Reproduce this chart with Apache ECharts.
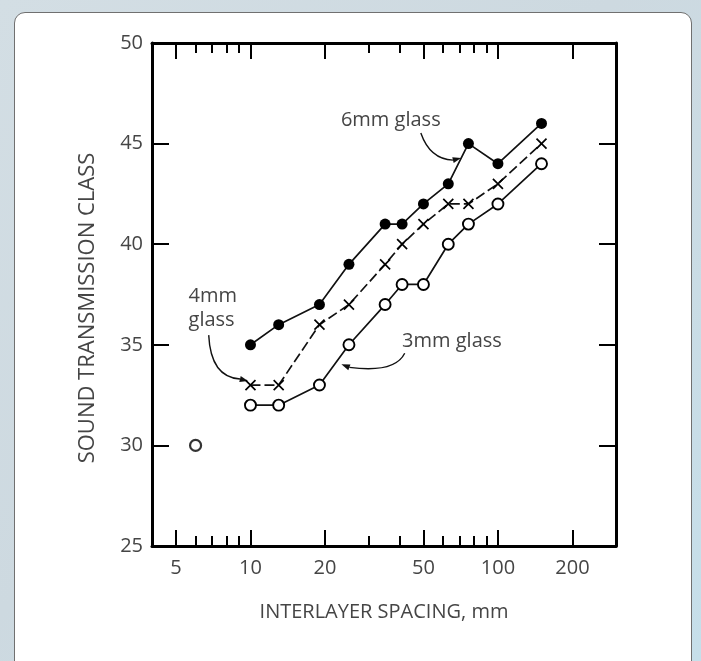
<!DOCTYPE html>
<html>
<head>
<meta charset="utf-8">
<script src="https://cdn.jsdelivr.net/npm/echarts@6/dist/echarts.min.js"></script>
<style>
  html, body { margin: 0; padding: 0; width: 701px; height: 661px; overflow: hidden;
    background: linear-gradient(135deg, #d3dee4 0%, #cdd9e0 45%, #c6dfea 100%); }
  #card { position: absolute; left: 14px; top: 12px; width: 676px; height: 670px;
    background: #fff; border: 1.5px solid #707070; border-radius: 11px; }
  #chart { position: absolute; left: 0; top: 0; width: 701px; height: 661px; }
</style>
</head>
<body>
<div id="card"></div>
<div id="chart"></div>
<script>
// ---------- data ----------
const spacing = [10, 13, 19, 25, 35, 41, 50, 63, 76, 100, 150];
const stc6mm = [35, 36, 37, 39, 41, 41, 42, 43, 45, 44, 46];
const stc4mm = [33, 33, 36, 37, 39, 40, 41, 42, 42, 43, 45];
const stc3mm = [32, 32, 33, 35, 37, 38, 38, 40, 41, 42, 44];
const spacing3mmSingle = [6];
const stc3mmSingle = [30];

const xMajorTicks = [5, 10, 20, 50, 100, 200];
const xMinorTicks = [6, 7, 8, 9, 30, 40, 60, 70, 80, 90];
const xMin = 4, xMax = 300;
const yMin = 25, yMax = 50, yStep = 5;

// ---------- styling ----------
const FONT = '"Open Sans", "Noto Sans", sans-serif';
const TXT = '#454545';
const zip = (xs, ys) => xs.map((x, i) => [x, ys[i]]);
const lg = v => Math.log10(v);

const chart = echarts.init(document.getElementById('chart'), null, { renderer: 'canvas' });

function tickAxis(position, values, len, labels, showLine) {
  return {
    type: 'value', position: position, min: lg(xMin), max: lg(xMax),
    axisLine: { show: !!showLine, onZero: false, lineStyle: { color: '#000', width: 3 } },
    axisTick: { show: true, inside: true, length: len, customValues: values.map(lg),
      lineStyle: { color: '#000', width: 2 } },
    axisLabel: labels ? { show: true, customValues: values.map(lg), margin: 12,
      formatter: v => String(Math.round(Math.pow(10, v))),
      color: TXT, fontSize: 20, fontFamily: FONT } : { show: false },
    splitLine: { show: false }
  };
}

const X_MARK = 'path://M0 0L10 10M10 0L0 10';

chart.setOption({
  animation: false,
  backgroundColor: 'transparent',
  grid: { left: 152, right: 85, top: 43, bottom: 115, containLabel: false },
  xAxis: [
    { type: 'log', logBase: 10, min: xMin, max: xMax, position: 'bottom',
      axisLine: { show: true, onZero: false, lineStyle: { color: '#000', width: 3 } },
      axisTick: { show: false }, axisLabel: { show: false }, splitLine: { show: false },
      name: 'INTERLAYER SPACING, mm', nameLocation: 'middle', nameGap: 56,
      nameTextStyle: { color: TXT, fontSize: 20, fontFamily: FONT } },
    tickAxis('bottom', xMajorTicks, 16, true, false),
    tickAxis('bottom', xMinorTicks, 10, false, false),
    tickAxis('top', xMajorTicks, 16, false, true),
    tickAxis('top', xMinorTicks, 10, false, false)
  ],
  yAxis: [
    { type: 'value', min: yMin, max: yMax, interval: yStep, position: 'left',
      axisLine: { show: true, onZero: false, lineStyle: { color: '#000', width: 3 } },
      axisTick: { show: true, inside: true, length: 17, lineStyle: { color: '#000', width: 2 } },
      axisLabel: { color: TXT, fontSize: 20, fontFamily: FONT, margin: 9 },
      splitLine: { show: false } },
    { type: 'value', min: yMin, max: yMax, interval: yStep, position: 'right',
      axisLine: { show: true, onZero: false, lineStyle: { color: '#000', width: 3 } },
      axisTick: { show: true, inside: true, length: 17, lineStyle: { color: '#000', width: 2 } },
      axisLabel: { show: false }, splitLine: { show: false } }
  ],
  series: [
    { name: '6mm glass', type: 'line', xAxisIndex: 0, yAxisIndex: 0,
      data: zip(spacing, stc6mm), symbol: 'circle', symbolSize: 11,
      itemStyle: { color: '#000' }, lineStyle: { color: '#111', width: 1.7 } },
    { name: '4mm glass', type: 'line', xAxisIndex: 0, yAxisIndex: 0,
      data: zip(spacing, stc4mm), symbol: X_MARK, symbolSize: 10,
      itemStyle: { color: '#000', borderColor: '#000', borderWidth: 1.7 },
      lineStyle: { color: '#111', width: 1.7, type: [10, 4] } },
    { name: '3mm glass', type: 'line', xAxisIndex: 0, yAxisIndex: 0,
      data: zip(spacing, stc3mm), symbol: 'circle', symbolSize: 11,
      itemStyle: { color: '#fff', borderColor: '#000', borderWidth: 1.9 },
      lineStyle: { color: '#111', width: 1.7 } },
    { name: '3mm glass (6 mm spacing)', type: 'scatter', xAxisIndex: 0, yAxisIndex: 0,
      data: zip(spacing3mmSingle, stc3mmSingle), symbol: 'circle', symbolSize: 11,
      itemStyle: { color: '#fff', borderColor: '#000', borderWidth: 2.2 } }
  ]
});

// ---------- annotations (anchored in data coordinates) ----------
const notes = [
  { text: '6mm glass', at: [36.9, 46.17], align: 'center' },
  { text: '4mm\nglass', at: [5.62, 36.8], align: 'left' },
  { text: '3mm glass', at: [65.2, 35.18], align: 'center' }
];
const arrows = [
  { from: [48.8, 45.53], ctrl: [53.1, 44.23], to: [65.8, 44.18], tip: [70.96, 44.28] },
  { from: [6.78, 35.48], ctrl: [6.91, 33.39], to: [9.07, 33.30], tip: [9.77, 33.20] },
  { from: [42.0, 34.58], ctrl: [38.3, 33.58], to: [25.1, 33.88], tip: [23.3, 34.03] }
];
const P = d => chart.convertToPixel({ xAxisIndex: 0, yAxisIndex: 0 }, d);
const g = [];
notes.forEach(n => {
  const p = P(n.at);
  g.push({ type: 'text', x: p[0], y: p[1], silent: true,
    style: { text: n.text, align: n.align, verticalAlign: 'middle', fill: TXT,
      fontSize: 20, fontFamily: FONT, lineHeight: 24 } });
});
arrows.forEach(a => {
  const s = P(a.from), c = P(a.ctrl), e = P(a.to), t = P(a.tip);
  g.push({ type: 'bezierCurve', silent: true,
    shape: { x1: s[0], y1: s[1], cpx1: c[0], cpy1: c[1], x2: e[0], y2: e[1] },
    style: { stroke: '#111', lineWidth: 1.4, fill: null } });
  const dx = t[0] - e[0], dy = t[1] - e[1], L = Math.hypot(dx, dy) || 1;
  const nx = -dy / L * 3, ny = dx / L * 3;
  g.push({ type: 'polygon', silent: true,
    shape: { points: [[t[0], t[1]], [e[0] + nx, e[1] + ny], [e[0] - nx, e[1] - ny]] },
    style: { fill: '#111' } });
});
g.push({ type: 'text', x: 88, y: 308, rotation: Math.PI / 2, silent: true,
  style: { text: 'SOUND TRANSMISSION CLASS', align: 'center', verticalAlign: 'middle',
    fill: TXT, fontSize: 22, fontFamily: FONT } });
chart.setOption({ graphic: g });
</script>
</body>
</html>
